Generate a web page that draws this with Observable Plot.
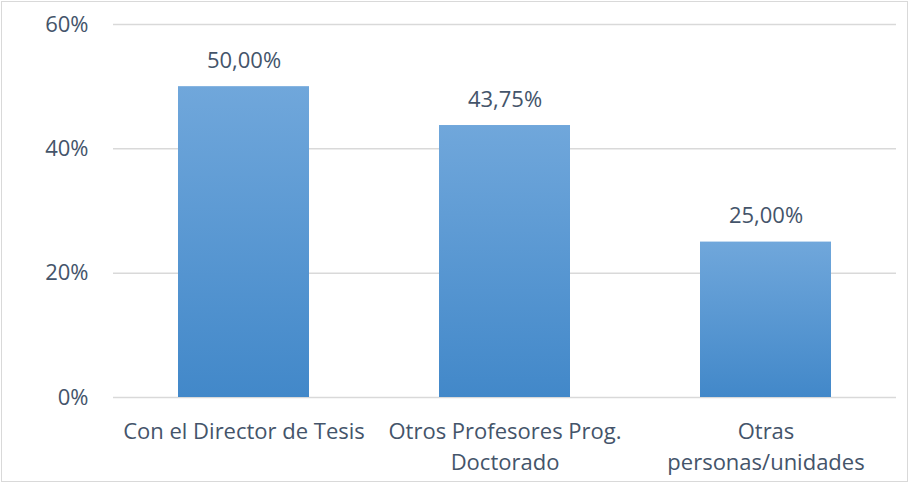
<!DOCTYPE html>
<html>
<head>
<meta charset="utf-8">
<script src="https://cdn.jsdelivr.net/npm/d3@7"></script>
<script src="https://cdn.jsdelivr.net/npm/@observablehq/plot@0.6"></script>
<style>
  html, body { margin: 0; padding: 0; background: #fff; }
  #chart svg { display: block; outline: 1px solid #d9d9d9; outline-offset: -2px; }
</style>
</head>
<body>
<div id="chart"></div>
<script>
const categories = ["Con el Director de Tesis", "Otros Profesores Prog.\nDoctorado", "Otras\npersonas/unidades"];
const values = [0.50, 0.4375, 0.25];
const valueLabels = ["50,00%", "43,75%", "25,00%"];
const yTicks = [0, 0.2, 0.4, 0.6];

const data = categories.map((c, i) => ({cat: c, v: values[i], label: valueLabels[i]}));
const textColor = "#44546a";
const font = "Open Sans, Liberation Sans, sans-serif";
const fs = 22;

const chart = Plot.plot({
  width: 909,
  height: 483,
  marginLeft: 113,
  marginRight: 13,
  marginTop: 24,
  marginBottom: 86,
  style: {fontFamily: font, fontSize: fs + "px", color: textColor, background: "#fff"},
  x: {domain: categories, paddingInner: 0.5, paddingOuter: 0.25, label: null},
  y: {domain: [0, 0.6], ticks: yTicks, label: null},
  marks: [
    Plot.gridY(yTicks, {stroke: "#d9d9d9", strokeOpacity: 1, strokeWidth: 1.5}),
    Plot.axisY(yTicks, {tickSize: 0, tickPadding: 25, tickFormat: d => Math.round(d * 100) + "%", fill: textColor, fontSize: fs, label: null}),
    Plot.axisX({tickSize: 0, tickPadding: 20, fill: textColor, fontSize: fs, lineHeight: 1.4, label: null}),
    Plot.barY(data, {x: "cat", y: "v", fill: "url(#barGrad)", style: {filter: "drop-shadow(1px 1px 2px rgba(0,0,0,0.35))"}}),
    Plot.text(data, {x: "cat", y: "v", text: "label", dy: -26, fill: textColor, fontSize: fs})
  ]
});

const ns = "http://www.w3.org/2000/svg";
const defs = document.createElementNS(ns, "defs");
defs.innerHTML = `<linearGradient id="barGrad" x1="0" y1="0" x2="0" y2="1">
  <stop offset="0" stop-color="#70a7db"/>
  <stop offset="1" stop-color="#4288c9"/>
</linearGradient>`;
chart.insertBefore(defs, chart.firstChild);
document.getElementById("chart").appendChild(chart);
</script>
</body>
</html>
